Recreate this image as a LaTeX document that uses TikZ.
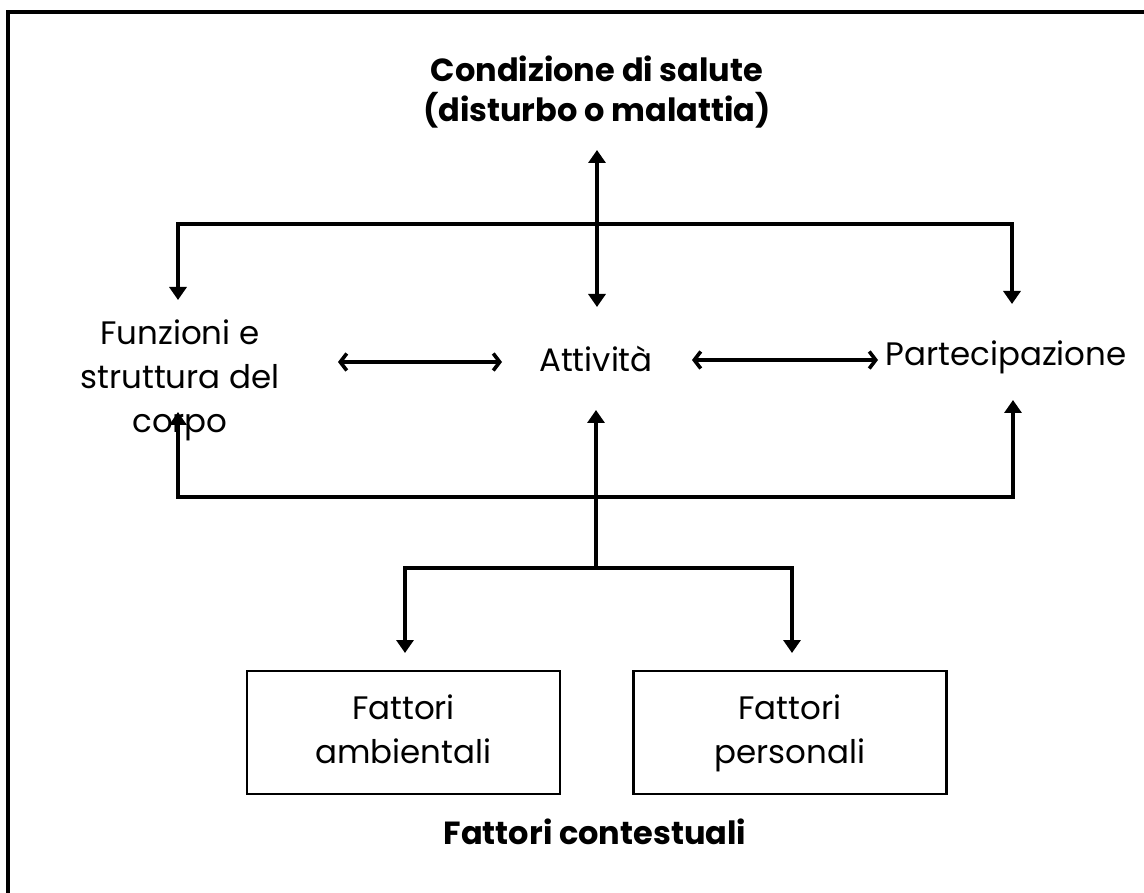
\documentclass[tikz,border=0pt]{standalone}
\usepackage{fontspec}
\setmainfont{Poppins}
\usetikzlibrary{arrows.meta}
\begin{document}
\begin{tikzpicture}[x=1pt,y=-1pt,
  txt/.style={inner sep=0pt, align=center, font=\fontsize{32.5}{44}\selectfont},
  boldtxt/.style={inner sep=0pt, align=center, font=\fontsize{32}{40}\selectfont\bfseries},
  boxtxt/.style={draw, line width=2.5pt, minimum width=313pt, minimum height=123pt, inner sep=0pt, align=center, font=\fontsize{32.5}{44}\selectfont},
  conn/.style={line width=3.6pt, line join=miter},
  tri/.style={conn, -{Triangle[length=13pt,width=17pt]}},
  tritwo/.style={conn, {Triangle[length=13pt,width=17pt]}-{Triangle[length=13pt,width=17pt]}},
  barbtwo/.style={conn, {Straight Barb[length=6.5pt,width=17pt,line width=3.6pt]}-{Straight Barb[length=6.5pt,width=17pt,line width=3.6pt]}}
]
\useasboundingbox (0,0) rectangle (1144,893);
\draw[line width=3.2pt] (8,12) rectangle (1160,910);

% texts
\node[boldtxt] (title) at (597,92) {Condizione di salute\\(disturbo o malattia)};
\node[txt] (funz) at (180,380) {Funzioni e\\struttura del\\corpo};
\node[txt] (att) at (596,359) {Attività};
\node[txt] (part) at (1006,357) {Partecipazione};
\node[boxtxt] (amb) at (403.5,732.5) {\strut Fattori\\ambientali\strut};
\node[boxtxt] (pers) at (790,732.5) {\strut Fattori\\personali\strut};
\node[boldtxt] (ctx) at (595,832) {Fattori contestuali};

% coordinates
\coordinate (tUp) at (597,150);
\coordinate (tDn) at (597,307);
\coordinate (hL) at (178,224);
\coordinate (hR) at (1012,224);
\coordinate (dL) at (178,300);
\coordinate (dR) at (1012,304);
\coordinate (aL1) at (338,362);
\coordinate (aL2) at (502,362);
\coordinate (aR1) at (692,360);
\coordinate (aR2) at (878,360);
\coordinate (bL) at (178,497);
\coordinate (bR) at (1013,497);
\coordinate (uL) at (178,412);
\coordinate (uR) at (1013,400);
\coordinate (cBot) at (596,568);
\coordinate (cTop) at (596,410);
\coordinate (fL) at (405,568);
\coordinate (fR) at (792,568);
\coordinate (tL) at (405,653);
\coordinate (tR) at (792,653);

% top connectors
\draw[tritwo] (tUp) -- (tDn);
\draw[tri] (hR) -- (hL) -- (dL);
\draw[tri] (hL) -- (hR) -- (dR);

% horizontal arrows
\draw[barbtwo] (aL1) -- (aL2);
\draw[barbtwo] (aR1) -- (aR2);

% bottom connectors
\draw[tri] (bR) -- (bL) -- (uL);
\draw[tri] (bL) -- (bR) -- (uR);
\draw[tri] (cBot) -- (cTop);
\draw[tri] (fR) -- (fL) -- (tL);
\draw[tri] (fL) -- (fR) -- (tR);
\end{tikzpicture}
\end{document}
